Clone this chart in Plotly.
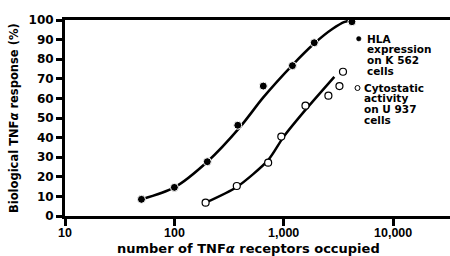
import math
import plotly.graph_objects as go

# HLA expression on K 562 cells (filled circles)
hla_x = [50, 100, 200, 380, 650, 1200, 1900, 4200]
hla_y = [8.5, 14.6, 27.7, 46.3, 66.3, 76.7, 88.4, 99.1]
# fitted curve through HLA data
hla_curve_x = [50, 100, 200, 400, 650, 1200, 1900, 2800, 3600, 4300]
hla_curve_y = [8.5, 14.6, 27.7, 45.5, 60.5, 77, 88, 95.5, 99, 100]

# Cytostatic activity on U 937 cells (open circles)
cyto_x = [193, 372, 720, 950, 1580, 2560, 3230, 3480]
cyto_y = [6.8, 15.3, 27.2, 40.5, 56.3, 61.4, 66.3, 73.6]
cyto_curve_x = [193, 372, 720, 1000, 1600, 2900]
cyto_curve_y = [6.8, 14.8, 28.5, 40.5, 54.5, 71]

x_tickvals = [10, 100, 1000, 10000]
x_ticktext = ["10", "100", "1,000", "10,000"]
y_tickvals = [0, 10, 20, 30, 40, 50, 60, 70, 80, 90, 100]

legend_lines = ["HLA", "expression", "on K 562", "cells",
                "Cytostatic", "activity", "on U 937", "cells"]
legend_y_px = [39, 49, 60, 71, 88, 98, 109, 120]

FONT = "DejaVu Sans"
FONT2 = "Liberation Sans"

# plot area in pixels
L, R, T, B = 65, 450, 20, 216


def px_x(p):
    return (p - L) / (R - L)


def px_y(p):
    return (B - p) / (B - T)


fig = go.Figure()
fig.add_trace(go.Scatter(x=hla_curve_x, y=hla_curve_y, mode="lines",
                         line=dict(color="black", width=2.5, shape="spline", smoothing=0.8),
                         hoverinfo="skip", cliponaxis=False))
fig.add_trace(go.Scatter(x=cyto_curve_x, y=cyto_curve_y, mode="lines",
                         line=dict(color="black", width=2.5, shape="spline", smoothing=0.7),
                         hoverinfo="skip", cliponaxis=False))
fig.add_trace(go.Scatter(x=hla_x, y=hla_y, mode="markers",
                         marker=dict(symbol="circle", size=8, color="black",
                                     line=dict(color="white", width=1)),
                         cliponaxis=False))
fig.add_trace(go.Scatter(x=cyto_x, y=cyto_y, mode="markers",
                         marker=dict(symbol="circle", size=7, color="white",
                                     line=dict(color="black", width=1.2)),
                         cliponaxis=False))

# legend as text
for i, (txt, ypx) in enumerate(zip(legend_lines, legend_y_px)):
    xl = 365 if i < 4 else 362
    fig.add_annotation(x=px_x(xl), y=px_y(ypx),
                       xref="paper", yref="paper", text="<b>" + txt + "</b>",
                       showarrow=False, xanchor="left", yanchor="middle",
                       font=dict(family=FONT, size=10.5, color="black"))
# legend symbols
fig.add_shape(type="circle", xref="paper", yref="paper",
              x0=px_x(356.5), x1=px_x(361), y0=px_y(41), y1=px_y(36.5),
              fillcolor="black", line=dict(color="black", width=0.5))
fig.add_shape(type="circle", xref="paper", yref="paper",
              x0=px_x(355), x1=px_x(360), y0=px_y(90.5), y1=px_y(85.5),
              fillcolor="white", line=dict(color="black", width=1))

# x tick labels (log axis: annotation x in log10 units)
for v, t in zip(x_tickvals, x_ticktext):
    fig.add_annotation(x=math.log10(v), y=px_y(233), xref="x", yref="paper",
                       text="<b>" + t + "</b>", showarrow=False,
                       xanchor="center", yanchor="middle",
                       font=dict(family=FONT2, size=12.5, color="black"))

# axis titles
fig.add_annotation(x=px_x(248), y=px_y(249), xref="paper", yref="paper",
                   text="<b>number of TNF<i>α</i> receptors occupied</b>",
                   showarrow=False, xanchor="center", yanchor="middle",
                   font=dict(family=FONT, size=13, color="black"))
fig.add_annotation(x=px_x(14), y=px_y(118), xref="paper", yref="paper",
                   text="<b>Biological TNF<i>α</i> response (%)</b>",
                   showarrow=False, xanchor="center", yanchor="middle",
                   textangle=-90,
                   font=dict(family=FONT, size=11.5, color="black"))

fig.update_layout(
    width=450, height=256,
    margin=dict(l=L, r=450 - R, t=T, b=256 - B),
    paper_bgcolor="white", plot_bgcolor="white",
    showlegend=False,
    font=dict(family=FONT, color="black"),
    xaxis=dict(type="log", range=[1, 4.52], tickvals=x_tickvals,
               showticklabels=False,
               showline=True, linecolor="black", linewidth=3, mirror=True,
               ticks="outside", ticklen=7, tickwidth=3, tickcolor="black",
               showgrid=False, zeroline=False),
    yaxis=dict(range=[0, 100], tickvals=y_tickvals,
               ticktext=["<b>%d</b>" % v for v in y_tickvals],
               showline=True, linecolor="black", linewidth=3,
               ticks="outside", ticklen=6, tickwidth=3, tickcolor="black",
               showgrid=False, zeroline=False,
               tickfont=dict(family=FONT, size=12, color="black")),
)

fig.write_html("out.html", config={"displayModeBar": False},
               post_script="document.body.style.margin='0';document.body.style.overflow='hidden';")
